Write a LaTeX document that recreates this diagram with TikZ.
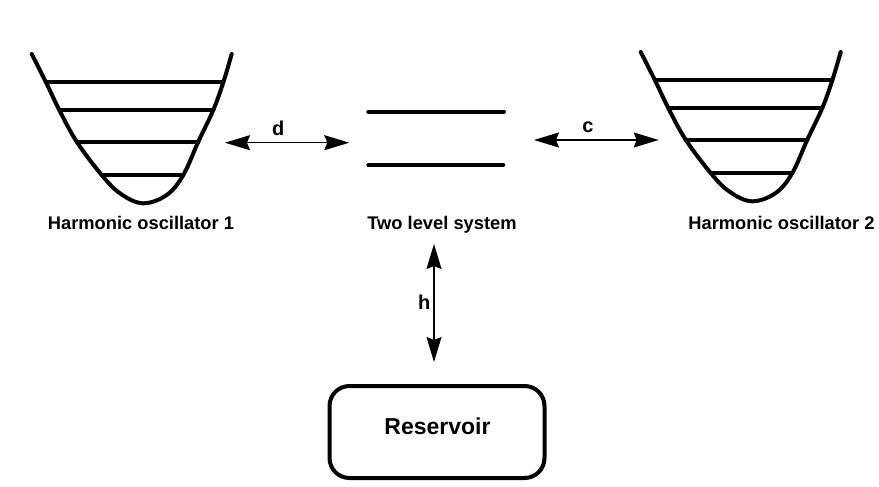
\documentclass[tikz,border=0pt]{standalone}
\usepackage{fontspec}
\setmainfont{Liberation Sans}
\usetikzlibrary{arrows.meta}
\tikzset{
  well/.style={line width=4pt, line join=round, line cap=round},
  level/.style={line width=4pt, line cap=round},
  biarrow/.style={line width=1.4pt, {Stealth[length=25pt,width=15pt,inset=3pt]}-{Stealth[length=25pt,width=15pt,inset=3pt]}},
  caption/.style={font=\bfseries\fontsize{18.3}{20}\selectfont, anchor=base, inner sep=0pt},
  coup/.style={font=\bfseries\fontsize{20}{22}\selectfont, anchor=base, inner sep=0pt},
  resbox/.style={draw, line width=4pt, rounded corners=20pt, minimum width=215pt, minimum height=92pt, inner sep=0pt}
}
\newcommand{\oscwell}{%
  \draw[well] plot[smooth, tension=0.6] coordinates {(31.7,54) (46,82.3) (59.3,110) (76.7,141.7) (101.7,175) (120,193.3) (142.7,203.3) (166.7,195) (183.3,175) (198.3,141.7) (213.3,110) (223.3,82.3) (231.7,54)};
  \draw[level] (46,82.3) -- (223.3,82.3);
  \draw[level] (59.3,110) -- (213.3,110);
  \draw[level] (76.7,141.7) -- (198.3,141.7);
  \draw[level] (101.7,175) -- (183.3,175);
}
\begin{document}
\begin{tikzpicture}[x=1pt,y=-1pt]
\fill[white] (0,0) rectangle (879,487);
\useasboundingbox (0,0) rectangle (879,487);
% oscillator 1
\oscwell
% oscillator 2
\begin{scope}[shift={(609,-2)}]
\oscwell
\end{scope}
% two level system
\draw[level] (368.3,111.7) -- (504,111.7);
\draw[level] (368.3,165) -- (503.3,165);
% captions
\node[caption] (ho1) at (141,229) {Harmonic oscillator 1};
\node[caption] (tls) at (442,229) {Two level system};
\node[caption] (ho2) at (781.5,229) {Harmonic oscillator 2};
% couplings
\coordinate (dL) at (225,142.7);
\coordinate (dR) at (349.3,142.7);
\coordinate (cL) at (534,140);
\coordinate (cR) at (658.7,140);
\coordinate (hT) at (434,244);
\coordinate (hB) at (434,362);
\draw[biarrow] (dL) -- (dR);
\draw[biarrow] (cL) -- (cR);
\draw[biarrow] (hT) -- (hB);
\node[coup] (dlab) at (278.3,135.7) {d};
\node[coup] (clab) at (588,132.7) {c};
\node[coup] (hlab) at (424.3,309.3) {h};
% reservoir
\node[resbox] (res) at (437,432) {};
\node[font=\bfseries\fontsize{23}{25}\selectfont, anchor=base, inner sep=0pt] (restext) at (437.5,434) {Reservoir};
\end{tikzpicture}
\end{document}
